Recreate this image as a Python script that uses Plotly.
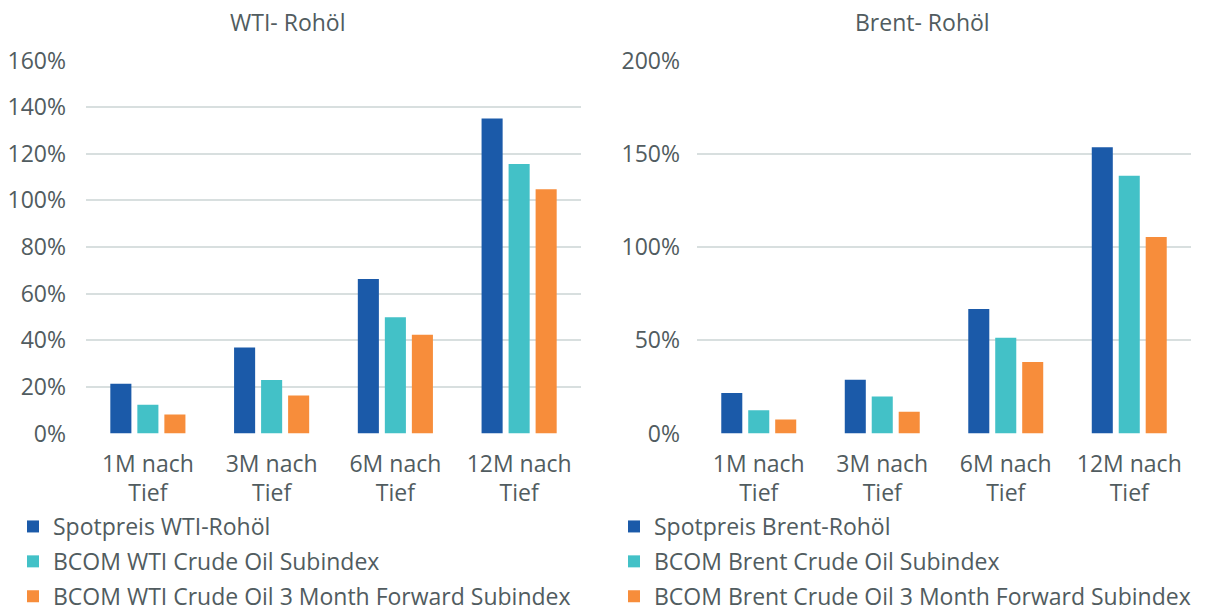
import plotly.graph_objects as go

categories = ["1M nach<br>Tief", "3M nach<br>Tief", "6M nach<br>Tief", "12M nach<br>Tief"]

wti_spot = [21.3, 36.9, 66.3, 135.1]
wti_bcom = [12.3, 22.9, 49.9, 115.6]
wti_fwd = [8.1, 16.3, 42.4, 104.8]

brent_spot = [21.7, 28.8, 66.8, 153.5]
brent_bcom = [12.5, 19.8, 51.3, 138.2]
brent_fwd = [7.5, 11.6, 38.3, 105.4]

wti_names = ["Spotpreis WTI-Rohöl", "BCOM WTI Crude Oil Subindex",
             "BCOM WTI Crude Oil 3 Month Forward Subindex"]
brent_names = ["Spotpreis Brent-Rohöl", "BCOM Brent Crude Oil Subindex",
               "BCOM Brent Crude Oil 3 Month Forward Subindex"]
colors = ["#1b5aa9", "#43c1c7", "#f78d3b"]

FONT = "Open Sans"
FS = 23
TXT = "#515c60"
W, H = 1224, 614

fig = go.Figure()
for i, (vals, name) in enumerate(zip([wti_spot, wti_bcom, wti_fwd], wti_names)):
    fig.add_trace(go.Bar(x=categories, y=vals, name=name, marker_color=colors[i],
                         marker_line_width=0, xaxis="x", yaxis="y",
                         legend="legend", legendgroup="w%d" % i))
for i, (vals, name) in enumerate(zip([brent_spot, brent_bcom, brent_fwd], brent_names)):
    fig.add_trace(go.Bar(x=categories, y=vals, name=name, marker_color=colors[i],
                         marker_line_width=0, xaxis="x2", yaxis="y2",
                         legend="legend2", legendgroup="b%d" % i))

ydom = [(H - 433.5) / H, (H - 60.5) / H]
axis_common = dict(showline=False, zeroline=False, ticks="",
                   tickfont=dict(family=FONT, size=FS, color=TXT), automargin=False)

legend_common = dict(y=(H - 505) / H, xanchor="left", yanchor="top",
                     font=dict(family=FONT, size=FS, color=TXT), bgcolor="rgba(0,0,0,0)",
                     traceorder="grouped", tracegroupgap=2)

fig.update_layout(
    width=W, height=H, autosize=False,
    margin=dict(l=0, r=0, t=0, b=0, autoexpand=False),
    paper_bgcolor="white", plot_bgcolor="white",
    barmode="group", bargap=0.345, bargroupgap=0.22,
    font=dict(family=FONT, size=FS, color=TXT),
    xaxis=dict(domain=[86 / W, 581 / W], anchor="y", showgrid=False,
               ticklabelstandoff=14, **axis_common),
    yaxis=dict(domain=ydom, anchor="x", range=[0, 160], dtick=20, ticksuffix="%",
               showgrid=True, gridcolor="#d8dfdf", gridwidth=2,
               ticklabelstandoff=19, **axis_common),
    xaxis2=dict(domain=[697 / W, 1191 / W], anchor="y2", showgrid=False,
                ticklabelstandoff=14, **axis_common),
    yaxis2=dict(domain=ydom, anchor="x2", range=[0, 200], dtick=50, ticksuffix="%",
                showgrid=True, gridcolor="#d8dfdf", gridwidth=2,
                ticklabelstandoff=16, **axis_common),
    legend=dict(x=13 / W, **legend_common),
    legend2=dict(x=614 / W, **legend_common),
    annotations=[
        dict(text="WTI- Rohöl", x=287 / W, y=(H - 22) / H, xref="paper", yref="paper",
             showarrow=False, xanchor="center", yanchor="middle",
             font=dict(family=FONT, size=FS, color=TXT)),
        dict(text="Brent- Rohöl", x=922 / W, y=(H - 22) / H, xref="paper", yref="paper",
             showarrow=False, xanchor="center", yanchor="middle",
             font=dict(family=FONT, size=FS, color=TXT)),
    ],
)

fig.write_html("out.html")
